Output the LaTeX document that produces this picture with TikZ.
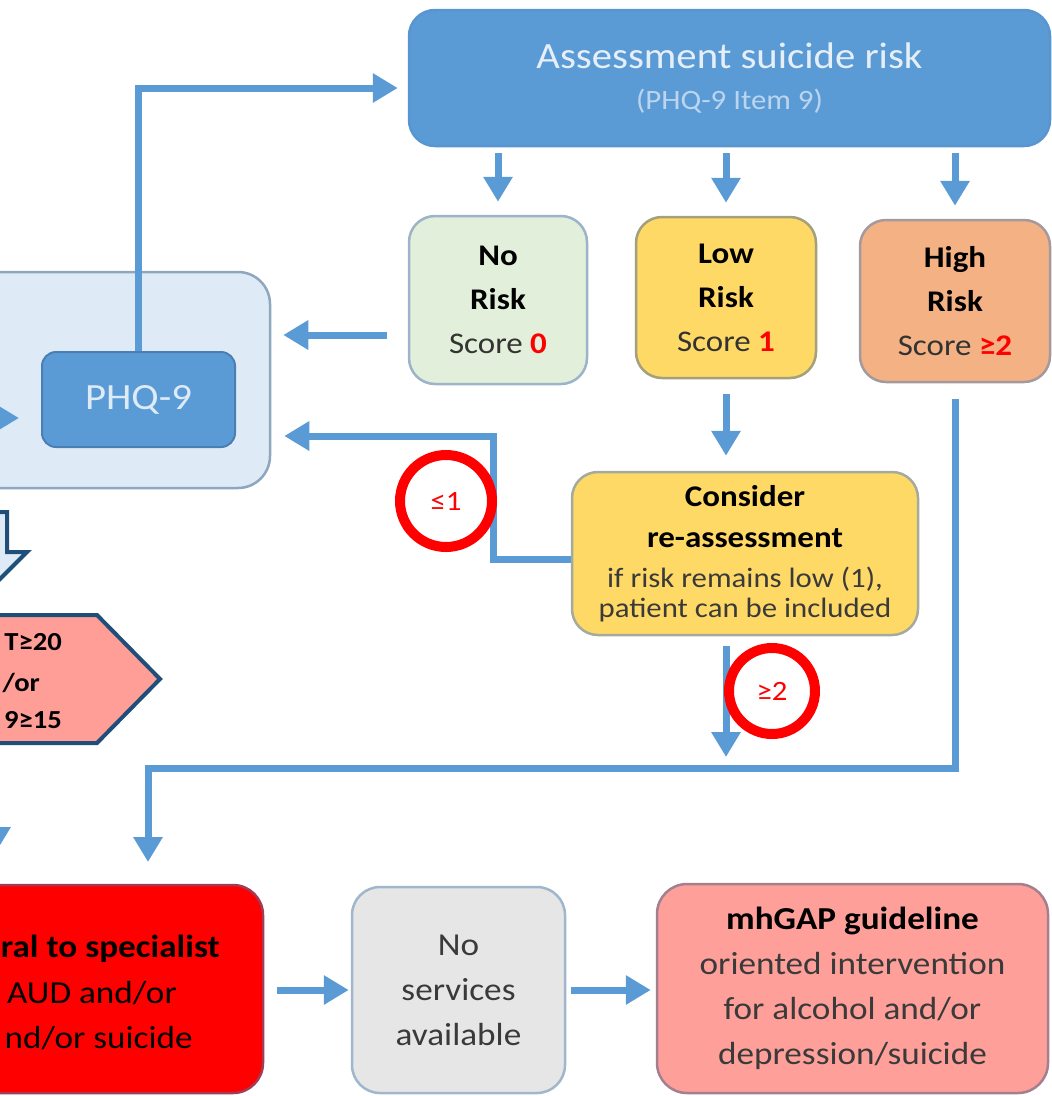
\documentclass[tikz,border=0pt]{standalone}
\usepackage{fontspec}
\setmainfont{Carlito}[FakeStretch=1.1]
\usetikzlibrary{arrows.meta,calc}
\definecolor{lineblue}{HTML}{5B9BD5}
\definecolor{assessb}{HTML}{5895D1}
\definecolor{titlet}{HTML}{E6EFF8}
\definecolor{subt}{HTML}{BCD5EE}
\definecolor{phqb}{HTML}{4A7FB5}
\definecolor{phqt}{HTML}{DDEBF7}
\definecolor{bigf}{HTML}{DEEBF7}
\definecolor{bigb}{HTML}{8EA6BE}
\definecolor{darkb}{HTML}{1F4E79}
\definecolor{pinkf}{HTML}{FF9E97}
\definecolor{greenf}{HTML}{E2EFDA}
\definecolor{greenb}{HTML}{9CB3C9}
\definecolor{yellowf}{HTML}{FFD966}
\definecolor{yellowb}{HTML}{A3A07C}
\definecolor{consb}{HTML}{A4AA9E}
\definecolor{orangef}{HTML}{F4B183}
\definecolor{orangeb}{HTML}{A49A9E}
\definecolor{grayf}{HTML}{E7E6E6}
\definecolor{grayb}{HTML}{9FB6CD}
\definecolor{mhf}{HTML}{FF9F99}
\definecolor{mhb}{HTML}{A28090}
\definecolor{redb}{HTML}{A33B55}
\definecolor{scoret}{HTML}{333333}
\definecolor{darkt}{HTML}{3A3A3A}
\newcommand\fsz[2]{\fontsize{#1}{#2}\selectfont}
\begin{document}
\begin{tikzpicture}[x=1pt,y=-1pt,
  conn/.style={draw=lineblue,line width=7pt,-{Triangle[width=28pt,length=25pt]},line join=miter},
  box/.style={draw,line width=2.5pt,rounded corners=26pt,align=center,inner sep=0pt},
  riskbox/.style={box,minimum height=165pt,font=\fsz{30}{44}},
  circ/.style={circle,draw=red,line width=10pt,fill=white,inner sep=0pt,text=red,font=\fsz{28}{30}},
  frag/.style={anchor=base east,inner sep=0pt}
]
\useasboundingbox (0,0) rectangle (1052,1096);
\clip (0,0) rectangle (1052,1096);

% left light-blue container and PHQ-9
\node[box, draw=bigb, fill=bigf, rounded corners=32pt, minimum width=370pt, minimum height=216pt] (big) at (85,380) {};
\node[box, draw=phqb, line width=2pt, fill=lineblue, rounded corners=14pt, minimum width=193pt, minimum height=95pt, font=\fsz{37}{44}, text=phqt] (phq) at (138.5,399.5) {PHQ-9};

% block arrow (down)
\draw[draw=darkb, fill=bigf, line width=4pt, line join=miter] (-47,512) -- (7,512) -- (7,552) -- (27,552) -- (-20,599) -- (-67,552) -- (-47,552) -- cycle;

% pentagon
\draw[draw=darkb, fill=pinkf, line width=4pt, line join=miter] (-100,615) -- (97,615) -- (160,679) -- (97,743) -- (-100,743) -- cycle;
\node[frag, font=\bfseries\fsz{26}{30}] (pa) at (62,650) {T≥20};
\node[frag, font=\bfseries\fsz{26}{30}] (pb) at (40,691) {/or};
\node[frag, font=\bfseries\fsz{26}{30}] (pc) at (62,728) {9≥15};

% assessment box
\node[box, draw=assessb, fill=lineblue, minimum width=641pt, minimum height=136pt, font=\fsz{28}{40}, text=titlet] (assess) at (729.5,78)
  {{\fsz{37}{40}Assessment suicide risk}\\[1pt]{\color{subt}(PHQ-9 Item 9)}};

% risk boxes
\node[riskbox, draw=greenb, fill=greenf, minimum width=178pt, minimum height=168pt] (norisk) at (498,300)
  {{\bfseries No}\\{\bfseries Risk}\\{\color{scoret}Score} {\bfseries\color{red}0}};
\node[riskbox, draw=yellowb, fill=yellowf, minimum width=180pt, minimum height=161pt] (lowrisk) at (726,297.5)
  {{\bfseries Low}\\{\bfseries Risk}\\{\color{scoret}Score} {\bfseries\color{red}1}};
\node[riskbox, draw=orangeb, fill=orangef, minimum width=190pt, minimum height=162pt] (highrisk) at (955,301)
  {{\bfseries High}\\{\bfseries Risk}\\{\color{scoret}Score} {\bfseries\color{red}≥2}};

% consider box
\node[box, draw=consb, fill=yellowf, minimum width=346pt, minimum height=163pt, font=\fsz{28}{30}, text=darkt] (consider) at (745,553.5)
  {{\bfseries\fsz{30}{41}\color{black}Consider}\\[11pt]{\bfseries\fsz{30}{41}\color{black}re-assessment}\\[10pt]if risk remains low (1),\\patient can be included};

% bottom boxes
\node[box, draw=redb, fill=red, rounded corners=30pt, minimum width=400pt, minimum height=208pt] (red) at (63,989) {};
\node[frag, font=\bfseries\fsz{32}{45}] (ra) at (220,957) {ral to specialist};
\node[frag, font=\fsz{32}{45}] (rb) at (177,1003) {AUD and/or};
\node[frag, font=\fsz{32}{45}] (rc) at (193,1048) {nd/or suicide};

\node[box, draw=grayb, fill=grayf, rounded corners=28pt, minimum width=213pt, minimum height=206pt, font=\fsz{32}{45}, text=darkt] (nserv) at (458.5,990)
  {No\\services\\available};
\node[box, draw=mhb, fill=mhf, rounded corners=30pt, minimum width=391pt, minimum height=209pt, font=\fsz{32}{45}, text=darkt] (mhgap) at (852.5,988.5)
  {{\bfseries\color{black}mhGAP guideline}\\oriented intervention\\for alcohol and/or\\depression/suicide};

% connectors
\draw[conn, shorten >=10pt] (phq.north) |- ([yshift=-10pt]assess.west);
\draw[conn, shorten <=6pt, shorten >=13pt] (assess.south -| norisk.north) -- (norisk.north);
\draw[conn, shorten <=6pt, shorten >=13pt] (assess.south -| lowrisk.north) -- (lowrisk.north);
\draw[conn, shorten <=6pt, shorten >=13pt] (assess.south -| highrisk.north) -- (highrisk.north);
\draw[conn, shorten <=21pt, shorten >=12pt] ([yshift=-35pt]norisk.west) -- ([yshift=-35pt]norisk.west -| big.east);
\draw[conn, shorten <=15pt, shorten >=15pt] (lowrisk.south) -- (consider.north -| lowrisk.south);
\coordinate (k1) at (493,436);
\draw[conn, shorten >=13pt] ([yshift=-6pt]consider.west) -| (k1) -- (k1 -| big.east);
\coordinate (k2) at (726,757);
\draw[conn, shorten <=10pt] (consider.south -| lowrisk.south) -- (k2);
\coordinate (turn) at (148,768);
\coordinate (k3) at (148,862);
\draw[conn, shorten <=16pt] (highrisk.south) |- (turn) -- (k3);
\draw[conn, shorten <=13pt, shorten >=2pt] (red.east |- nserv.west) -- (nserv.west);
\draw[conn, shorten <=5pt, shorten >=5pt] (nserv.east) -- (nserv.east -| mhgap.west);
\coordinate (lin) at (-40,418);
\draw[conn, shorten >=22pt] (lin) -- (lin -| phq.west);
\coordinate (ld1) at (-4,790);
\coordinate (ld2) at (-4,852);
\draw[conn] (ld1) -- (ld2);

% red circles
\node[circ, minimum size=92pt] (c1) at (446,501) {≤1};
\node[circ, minimum size=86pt] (c2) at (772,691) {≥2};
\end{tikzpicture}
\end{document}
